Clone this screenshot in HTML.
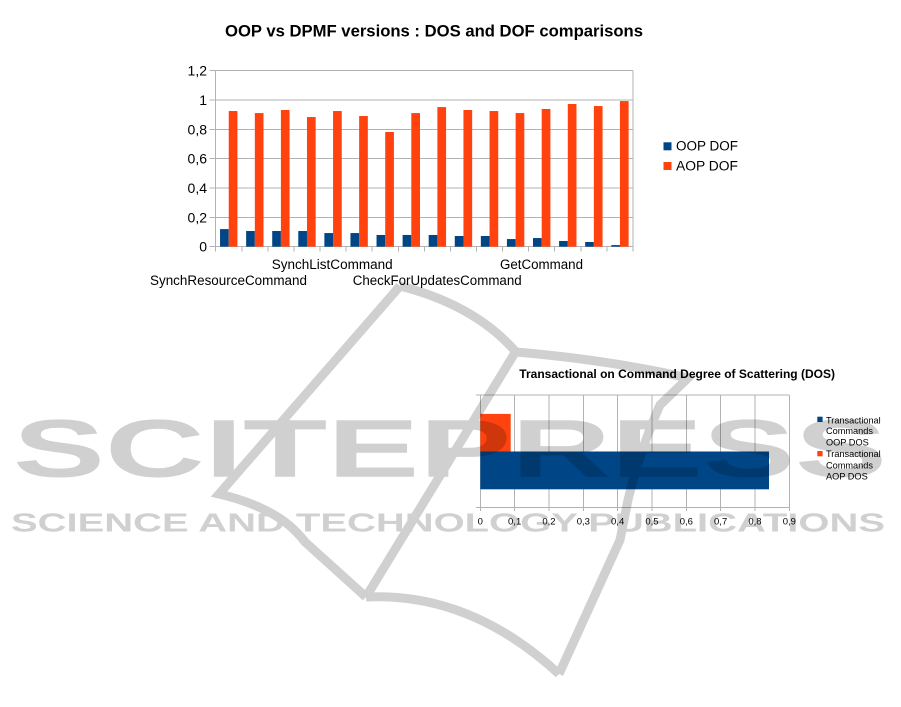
<!DOCTYPE html>
<html>
<head>
<meta charset="utf-8">
<style>
html,body{margin:0;padding:0;background:#fff;}
body{width:901px;height:707px;overflow:hidden;}
svg{display:block;}
</style>
</head>
<body>
<svg width="901" height="707" viewBox="0 0 901 707" xmlns="http://www.w3.org/2000/svg">
<rect x="0" y="0" width="901" height="707" fill="#ffffff"/>

<!-- ============ CHART 1 ============ -->
<text x="225" y="36.7" font-family="Liberation Sans, sans-serif" font-weight="bold" font-size="17" textLength="418" lengthAdjust="spacingAndGlyphs" fill="#000">OOP vs DPMF versions : DOS and DOF comparisons</text>

<g stroke="#b3b3b3" stroke-width="1" fill="none" shape-rendering="crispEdges">
  <line x1="209.5" y1="70.7" x2="633" y2="70.7"/>
  <line x1="209.5" y1="100.03" x2="633" y2="100.03"/>
  <line x1="209.5" y1="129.37" x2="633" y2="129.37"/>
  <line x1="209.5" y1="158.7" x2="633" y2="158.7"/>
  <line x1="209.5" y1="188.03" x2="633" y2="188.03"/>
  <line x1="209.5" y1="217.37" x2="633" y2="217.37"/>
  <line x1="209.5" y1="246.7" x2="633" y2="246.7"/>
  <line x1="215.7" y1="70.7" x2="215.7" y2="251.7"/>
  <line x1="633" y1="70.7" x2="633" y2="251.7"/>
  <line x1="241.78" y1="246.7" x2="241.78" y2="251.7"/>
  <line x1="267.86" y1="246.7" x2="267.86" y2="251.7"/>
  <line x1="293.94" y1="246.7" x2="293.94" y2="251.7"/>
  <line x1="320.02" y1="246.7" x2="320.02" y2="251.7"/>
  <line x1="346.10" y1="246.7" x2="346.10" y2="251.7"/>
  <line x1="372.18" y1="246.7" x2="372.18" y2="251.7"/>
  <line x1="398.26" y1="246.7" x2="398.26" y2="251.7"/>
  <line x1="424.34" y1="246.7" x2="424.34" y2="251.7"/>
  <line x1="450.42" y1="246.7" x2="450.42" y2="251.7"/>
  <line x1="476.50" y1="246.7" x2="476.50" y2="251.7"/>
  <line x1="502.58" y1="246.7" x2="502.58" y2="251.7"/>
  <line x1="528.66" y1="246.7" x2="528.66" y2="251.7"/>
  <line x1="554.74" y1="246.7" x2="554.74" y2="251.7"/>
  <line x1="580.82" y1="246.7" x2="580.82" y2="251.7"/>
  <line x1="606.90" y1="246.7" x2="606.90" y2="251.7"/>
</g>

<!-- OOP bars -->
<g fill="#004586">
  <rect x="220.05" y="229.10" width="8.69" height="17.60"/>
  <rect x="246.13" y="231.01" width="8.69" height="15.69"/>
  <rect x="272.21" y="231.01" width="8.69" height="15.69"/>
  <rect x="298.29" y="231.01" width="8.69" height="15.69"/>
  <rect x="324.37" y="233.06" width="8.69" height="13.64"/>
  <rect x="350.45" y="233.06" width="8.69" height="13.64"/>
  <rect x="376.53" y="234.97" width="8.69" height="11.73"/>
  <rect x="402.61" y="234.97" width="8.69" height="11.73"/>
  <rect x="428.69" y="234.97" width="8.69" height="11.73"/>
  <rect x="454.77" y="235.99" width="8.69" height="10.71"/>
  <rect x="480.85" y="235.99" width="8.69" height="10.71"/>
  <rect x="506.93" y="239.07" width="8.69" height="7.63"/>
  <rect x="533.01" y="238.05" width="8.69" height="8.65"/>
  <rect x="559.09" y="240.98" width="8.69" height="5.72"/>
  <rect x="585.17" y="242.01" width="8.69" height="4.69"/>
  <rect x="611.25" y="245.09" width="8.69" height="1.61"/>
</g>
<!-- AOP bars -->
<g fill="#ff420e">
  <rect x="228.74" y="111.03" width="8.69" height="135.67"/>
  <rect x="254.82" y="113.08" width="8.69" height="133.62"/>
  <rect x="280.90" y="110.00" width="8.69" height="136.70"/>
  <rect x="306.98" y="117.04" width="8.69" height="129.66"/>
  <rect x="333.06" y="111.03" width="8.69" height="135.67"/>
  <rect x="359.14" y="116.02" width="8.69" height="130.68"/>
  <rect x="385.22" y="132.00" width="8.69" height="114.70"/>
  <rect x="411.30" y="113.08" width="8.69" height="133.62"/>
  <rect x="437.38" y="107.07" width="8.69" height="139.63"/>
  <rect x="463.46" y="110.00" width="8.69" height="136.70"/>
  <rect x="489.54" y="111.03" width="8.69" height="135.67"/>
  <rect x="515.62" y="113.08" width="8.69" height="133.62"/>
  <rect x="541.70" y="108.98" width="8.69" height="137.72"/>
  <rect x="567.78" y="103.99" width="8.69" height="142.71"/>
  <rect x="593.86" y="106.04" width="8.69" height="140.66"/>
  <rect x="619.94" y="101.06" width="8.69" height="145.64"/>
</g>

<g font-family="Liberation Sans, sans-serif" font-size="14" fill="#000" text-anchor="end">
  <text x="207" y="75.7">1,2</text>
  <text x="207" y="105">1</text>
  <text x="207" y="134.4">0,8</text>
  <text x="207" y="163.7">0,6</text>
  <text x="207" y="193">0,4</text>
  <text x="207" y="222.4">0,2</text>
  <text x="207" y="251.7">0</text>
</g>

<g font-family="Liberation Sans, sans-serif" font-size="13.5" fill="#000">
  <text x="271.7" y="269" textLength="121" lengthAdjust="spacingAndGlyphs">SynchListCommand</text>
  <text x="500" y="269" textLength="83" lengthAdjust="spacingAndGlyphs">GetCommand</text>
  <text x="150" y="285" textLength="157" lengthAdjust="spacingAndGlyphs">SynchResourceCommand</text>
  <text x="352.7" y="285" textLength="169" lengthAdjust="spacingAndGlyphs">CheckForUpdatesCommand</text>
</g>

<rect x="663.5" y="142.3" width="8" height="8" fill="#004586"/>
<rect x="663.5" y="162" width="8" height="8" fill="#ff420e"/>
<g font-family="Liberation Sans, sans-serif" font-size="13.5" fill="#000">
  <text x="676" y="150.7" textLength="62" lengthAdjust="spacingAndGlyphs">OOP DOF</text>
  <text x="676" y="170.7" textLength="62" lengthAdjust="spacingAndGlyphs">AOP DOF</text>
</g>

<!-- ============ CHART 2 ============ -->
<text x="519.3" y="378" font-family="Liberation Sans, sans-serif" font-weight="bold" font-size="11.5" textLength="315.7" lengthAdjust="spacingAndGlyphs" fill="#000">Transactional on Command Degree of Scattering (DOS)</text>

<g stroke="#b3b3b3" stroke-width="1" fill="none" shape-rendering="crispEdges">
  <line x1="476" y1="395" x2="789.3" y2="395"/>
  <line x1="476" y1="507.3" x2="789.3" y2="507.3"/>
  <line x1="480.3" y1="395" x2="480.3" y2="511"/>
  <line x1="514.63" y1="395" x2="514.63" y2="511"/>
  <line x1="548.97" y1="395" x2="548.97" y2="511"/>
  <line x1="583.3" y1="395" x2="583.3" y2="511"/>
  <line x1="617.63" y1="395" x2="617.63" y2="511"/>
  <line x1="651.97" y1="395" x2="651.97" y2="511"/>
  <line x1="686.3" y1="395" x2="686.3" y2="511"/>
  <line x1="720.63" y1="395" x2="720.63" y2="511"/>
  <line x1="754.97" y1="395" x2="754.97" y2="511"/>
  <line x1="789.3" y1="395" x2="789.3" y2="511"/>
</g>

<rect x="480.3" y="413.9" width="30.4" height="37.6" fill="#ff420e"/>
<rect x="480.3" y="451.5" width="288.7" height="37.8" fill="#004586"/>

<g font-family="Liberation Sans, sans-serif" font-size="9.5" fill="#000" text-anchor="middle">
  <text x="480.3" y="524.5">0</text>
  <text x="514.63" y="524.5">0,1</text>
  <text x="548.97" y="524.5">0,2</text>
  <text x="583.3" y="524.5">0,3</text>
  <text x="617.63" y="524.5">0,4</text>
  <text x="651.97" y="524.5">0,5</text>
  <text x="686.3" y="524.5">0,6</text>
  <text x="720.63" y="524.5">0,7</text>
  <text x="754.97" y="524.5">0,8</text>
  <text x="789.3" y="524.5">0,9</text>
</g>

<rect x="817.3" y="416.7" width="5.3" height="5.3" fill="#004586"/>
<rect x="817.3" y="451" width="5.3" height="5.3" fill="#ff420e"/>
<g font-family="Liberation Sans, sans-serif" font-size="9.2" fill="#000">
  <text x="826" y="423.3" textLength="54.7" lengthAdjust="spacingAndGlyphs">Transactional</text>
  <text x="826" y="434">Commands</text>
  <text x="826" y="445.3">OOP DOS</text>
  <text x="826" y="457" textLength="54.7" lengthAdjust="spacingAndGlyphs">Transactional</text>
  <text x="826" y="468.3">Commands</text>
  <text x="826" y="479.3">AOP DOS</text>
</g>

<!-- ============ WATERMARK ============ -->
<g style="mix-blend-mode:multiply">
  <g fill="none" stroke="#d0d0d0" stroke-width="9" stroke-linejoin="miter" stroke-linecap="butt">
    <path d="M 400 286 L 219 494 Q 245 500 265 510 Q 290 522 305 542 L 366 597"/>
    <path d="M 400 286 Q 475 305 516 352 Q 610 360 688 378 L 660 405 Q 640 450 628 500 L 620 540 L 559 674"/>
    <path d="M 516 351 L 366 597"/>
    <path d="M 366 597 Q 470 592 559 674"/>
  </g>
  <text x="13" y="476.7" font-family="Liberation Sans, sans-serif" font-weight="bold" font-size="82" textLength="874" lengthAdjust="spacingAndGlyphs" fill="#d0d0d0">SCITEPRESS</text>
  <text x="11" y="531.7" font-family="Liberation Sans, sans-serif" font-weight="bold" font-size="25.5" textLength="874" lengthAdjust="spacingAndGlyphs" fill="#d0d0d0">SCIENCE AND TECHNOLOGY PUBLICATIONS</text>
</g>
</svg>
</body>
</html>
